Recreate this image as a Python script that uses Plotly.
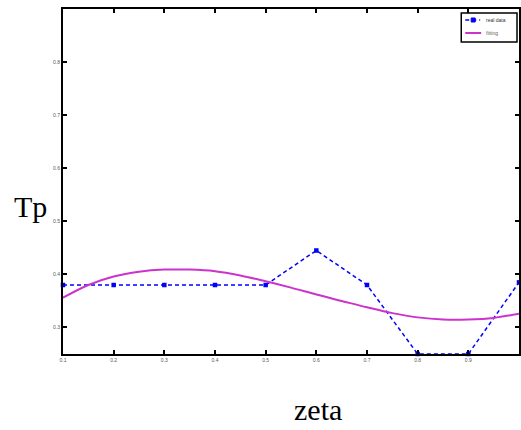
import plotly.graph_objects as go

zeta = [0.1, 0.2, 0.3, 0.4, 0.5, 0.6, 0.7, 0.8, 0.9, 1.0]
tp_real = [0.38, 0.38, 0.38, 0.38, 0.38, 0.445, 0.38, 0.25, 0.25, 0.385]

zeta_fit = [0.1, 0.15, 0.2, 0.25, 0.3, 0.35, 0.4, 0.45, 0.5, 0.55, 0.6,
            0.65, 0.7, 0.75, 0.8, 0.85, 0.9, 0.95, 1.0]
tp_fit = [0.356, 0.380, 0.396, 0.405, 0.409, 0.409, 0.406, 0.398, 0.387,
          0.375, 0.362, 0.350, 0.338, 0.327, 0.319, 0.315, 0.315, 0.318, 0.326]

x_ticks = [0.1, 0.2, 0.3, 0.4, 0.5, 0.6, 0.7, 0.8, 0.9]
y_ticks = [0.3, 0.4, 0.5, 0.6, 0.7, 0.8]

legend_names = ["real data", "fitting"]
blue = "#0000ff"
magenta = "#cc33cc"

W, H = 521, 430
ML, MR, MT, MB = 63, 0, 9, 76
pw = W - ML - MR
ph = H - MT - MB


def px(x):
    return (x - ML) / pw


def py(y):
    return (H - MB - y) / ph


fig = go.Figure()
fig.add_trace(go.Scatter(
    x=zeta, y=tp_real, mode="lines+markers", name=legend_names[0],
    line=dict(color=blue, width=1.5, dash="4px,3px"),
    marker=dict(symbol="square", size=4.5, color=blue),
    cliponaxis=False, showlegend=False))
fig.add_trace(go.Scatter(
    x=zeta_fit, y=tp_fit, mode="lines", name=legend_names[1],
    line=dict(color=magenta, width=2, shape="spline"), showlegend=False))

axis_common = dict(showline=True, linecolor="black", linewidth=2, mirror="ticks",
                   ticks="inside", ticklen=4, tickcolor="black", tickwidth=1.5,
                   showgrid=False, zeroline=False,
                   tickfont=dict(size=5, color="#555555", family="Liberation Sans"))

shapes = [
    dict(type="rect", xref="paper", yref="paper", x0=px(463), x1=px(519),
         y0=py(42), y1=py(13), line=dict(color="black", width=1.5),
         fillcolor="white", layer="above"),
    dict(type="line", xref="paper", yref="paper", x0=px(467), x1=px(482),
         y0=py(20), y1=py(20), line=dict(color=blue, width=1.5, dash="4px,3px")),
    dict(type="rect", xref="paper", yref="paper", x0=px(473), x1=px(477),
         y0=py(22), y1=py(18), line=dict(color=blue, width=1), fillcolor=blue),
    dict(type="line", xref="paper", yref="paper", x0=px(467), x1=px(483),
         y0=py(33), y1=py(33), line=dict(color=magenta, width=2)),
]

annotations = [
    dict(text="Tp", x=px(30), y=py(206), xref="paper", yref="paper",
         xanchor="center", yanchor="middle", showarrow=False,
         font=dict(size=30, family="Liberation Serif", color="black")),
    dict(text="zeta", x=px(319), y=py(409), xref="paper", yref="paper",
         xanchor="center", yanchor="middle", showarrow=False,
         font=dict(size=30, family="Liberation Serif", color="black")),
    dict(text=legend_names[0], x=px(486), y=py(20), xref="paper", yref="paper",
         xanchor="left", yanchor="middle", showarrow=False,
         font=dict(size=5, family="Liberation Sans", color="#333333")),
    dict(text=legend_names[1], x=px(486), y=py(33), xref="paper", yref="paper",
         xanchor="left", yanchor="middle", showarrow=False,
         font=dict(size=5, family="Liberation Sans", color="#666666")),
]

fig.update_layout(
    width=W, height=H,
    margin=dict(l=ML, r=MR, t=MT, b=MB),
    paper_bgcolor="white", plot_bgcolor="white",
    xaxis=dict(range=[0.1, 1.0], tickvals=x_ticks, **axis_common),
    yaxis=dict(range=[0.25, 0.9], tickvals=y_ticks, **axis_common),
    showlegend=False,
    shapes=shapes,
    annotations=annotations,
)

fig.write_html("out.html")
